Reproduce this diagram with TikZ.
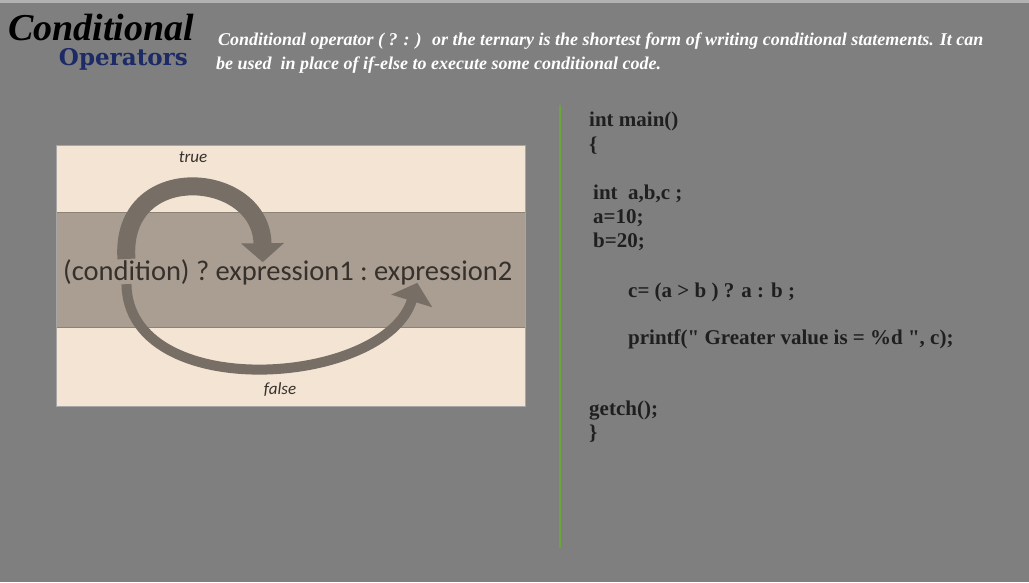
\documentclass[tikz,border=0pt]{standalone}
\usepackage{xcolor}
\usepackage{fontspec}
\setmainfont{Liberation Serif}
\newfontfamily\calibri{Carlito}
\newfontfamily\slabfont{DejaVu Serif}
\usepackage{tikz}
\usetikzlibrary{arrows.meta, positioning}

\definecolor{slide}{HTML}{7F7F7F}
\definecolor{cream}{HTML}{F3E4D3}
\definecolor{band}{HTML}{A99E91}
\definecolor{bandline}{HTML}{8C8276}
\definecolor{flow}{HTML}{776E66}
\definecolor{ink}{HTML}{36312C}
\definecolor{navy}{HTML}{1C2A66}
\definecolor{leaf}{HTML}{6AA63A}

\begin{document}
\begin{tikzpicture}[x=1pt, y=-1pt,
    expr/.style={inner sep=0pt, font=\calibri\fontsize{28.5}{32}\selectfont, text=ink},
    branch/.style={inner sep=0pt, font=\calibri\itshape\fontsize{17}{20}\selectfont, text=ink},
    flowarrow/.style={draw=flow, line width=#1, -{Triangle[width=42pt,length=19pt]}},
    intro/.style={anchor=base west, inner sep=0pt, text=white, font=\bfseries\itshape\fontsize{18}{22}\selectfont},
    codeline/.style={anchor=base west, inner sep=0pt, text=black!88, font=\bfseries\fontsize{21}{24}\selectfont}
]
    \fill[slide] (0,0) rectangle (1029,582);
    \useasboundingbox (0,0) rectangle (1029,582);
    \fill[black!30] (0,0) rectangle (1029,2.5);

    % heading
    \node[anchor=base west, inner sep=0pt, font=\bfseries\itshape\fontsize{38}{44}\selectfont] (title) at (8,40) {Conditional};
    \node[anchor=base east, inner sep=0pt, text=navy, font=\slabfont\bfseries\fontsize{23}{28}\selectfont] (subtitle) at (188,65) {Operators};
    \node[intro] (intro1) at (218,45) {Conditional operator ( ? : )~ or the ternary is the shortest form of writing conditional statements. It can};
    \node[intro] (intro2) at (216,69) {be used~ in place of if-else to execute some conditional code.};

    % ternary picture
    \fill[cream] (56,145) rectangle (525,406);
    \fill[band] (56,212) rectangle (525,327);
    \draw[bandline] (56,212) -- (525,212) (56,327) -- (525,327);
    \draw[black!35] (56,145) rectangle (525,406);

    \node[expr, anchor=base west] (cond) at (63,280) {(condition)};
    \node[expr, base right=6pt of cond] (qmark) {?};
    \node[expr, base right=6pt of qmark] (expr1) {expression1};
    \node[expr, base right=6pt of expr1] (colon) {:};
    \node[expr, base right=6pt of colon] (expr2) {expression2};

    \draw[flowarrow=18pt] (cond.north) .. controls +(-7,-100) and +(-1,-92) .. ([xshift=-22pt,yshift=-2pt]expr1.north);
    \draw[flowarrow=10pt] (cond.south) .. controls +(2,120) and +(-32,104) .. ([xshift=-26pt,yshift=2pt]expr2.south);

    \node[branch] (true) at (193,157) {true};
    \node[branch] (false) at (280,390) {false};

    % code
    \draw[leaf, line width=2pt] (560,105) -- (560,548);
    \foreach \x/\y/\txt [count=\i] in {589/126/{int main()}, 589/151/{\{}, 593/199/{int~ a,b,c ;},
        593/223/{a=10;}, 593/247/{b=20;}, 628/297/{c= (a > b ) ? a : b ;},
        628/344/{printf(\textquotedbl{} Greater value is = \%d \textquotedbl, c);}, 589/415/{getch();}, 589/439/{\}}}
        \node[codeline] (code\i) at (\x,\y) {\txt};
\end{tikzpicture}
\end{document}
